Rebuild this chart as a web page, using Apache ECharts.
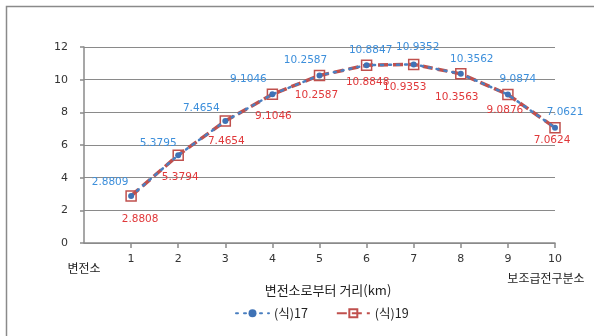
<!DOCTYPE html>
<html>
<head>
<meta charset="utf-8">
<script src="https://cdn.jsdelivr.net/npm/echarts@6/dist/echarts.min.js"></script>
<style>
html,body{margin:0;padding:0;background:#fff;}
#c{width:594px;height:336px;}
</style>
</head>
<body>
<div id="c"></div>
<script>
const xValues = [1, 2, 3, 4, 5, 6, 7, 8, 9, 10];
const series17 = [2.8809, 5.3795, 7.4654, 9.1046, 10.2587, 10.8847, 10.9352, 10.3562, 9.0874, 7.0621];
const series19 = [2.8808, 5.3794, 7.4654, 9.1046, 10.2587, 10.8848, 10.9353, 10.3563, 9.0876, 7.0624];
const seriesNames = ['(식)17', '(식)19'];
const xAxisTitle = '변전소로부터 거리(km)';
const startLabel = '변전소';
const endLabel = '보조급전구분소';

// label placement (style only)
const offsets17 = [[-21,-14],[-20,-12],[-24,-13],[-24,-15],[-14,-15],[4,-15],[4,-17],[11,-15],[10,-15],[10,-15]];
const offsets19 = [[9,23],[2,22],[1,20],[1,22],[-3,20],[1,17],[-9,23],[-4,23],[-3,16],[-3,13]];

const numFont = 'DejaVu Sans';
const krFont = '"Noto Sans CJK KR", "DejaVu Sans"';

function buildData(vals, offs) {
  return vals.map((v, i) => ({
    value: [xValues[i], v],
    label: { offset: offs[i] }
  }));
}

const chart = echarts.init(document.getElementById('c'), null, {renderer: 'canvas'});
chart.setOption({
  animation: false,
  backgroundColor: '#fff',
  graphic: [{
    type: 'rect', left: 4, top: 4,
    shape: { width: 700, height: 400 },
    style: { fill: 'none', stroke: '#8a8a8a', lineWidth: 1.5 },
    silent: true
  }],
  grid: { left: 84, right: 39, top: 47, bottom: 93 },
  legend: {
    top: 302, left: 230,
    itemWidth: 33, itemHeight: 10, itemGap: 28,
    textStyle: { fontFamily: krFont, fontSize: 12.5, color: '#222' },
    data: seriesNames
  },
  xAxis: [{
    type: 'value', min: 0, max: 10, interval: 1, position: 'bottom',
    name: xAxisTitle, nameLocation: 'middle', nameGap: 41,
    nameTextStyle: { fontFamily: krFont, fontSize: 13, color: '#222', padding: [0, 0, 0, 17] },
    axisLine: { lineStyle: { color: '#8a8a8a', width: 1.5 } },
    axisTick: { show: true, length: 5, lineStyle: { color: '#8a8a8a', width: 1.5 } },
    splitLine: { show: false },
    axisLabel: {
      margin: 11, fontFamily: numFont, fontSize: 11, color: '#333',
      showMinLabel: false, showMaxLabel: true
    }
  }, {
    type: 'value', min: 0, max: 10, interval: 10, position: 'bottom',
    axisLine: { show: false }, axisTick: { show: false }, splitLine: { show: false },
    axisLabel: {
      margin: 19, showMinLabel: true, showMaxLabel: true,
      fontFamily: krFont, fontSize: 12, color: '#222',
      formatter: function (v) {
        if (v === 0) return startLabel;
        if (v === 10) return '{e|' + endLabel + '}';
        return '';
      },
      rich: {
        e: { fontFamily: krFont, fontSize: 12, color: '#222', padding: [10, 18, 0, 0] }
      }
    }
  }],
  yAxis: {
    type: 'value', min: 0, max: 12, interval: 2,
    axisLine: { show: true, lineStyle: { color: '#8a8a8a', width: 1.5 } },
    axisTick: { show: true, length: 4, lineStyle: { color: '#8a8a8a', width: 1.5 } },
    splitLine: { lineStyle: { color: '#8a8a8a', width: 1.2 } },
    axisLabel: { margin: 16, fontFamily: numFont, fontSize: 11, color: '#333' }
  },
  series: [
    {
      name: seriesNames[0], type: 'line', z: 4, xAxisIndex: 0,
      data: buildData(series17, offsets17),
      symbol: 'circle', symbolSize: 6,
      itemStyle: { color: '#3f72b5' },
      lineStyle: { color: '#4a7fc0', width: 2.5, type: [2, 6], cap: 'round' },
      label: { show: true, position: 'inside', fontFamily: numFont, fontSize: 10.5, color: '#3d8fdb',
               formatter: p => String(p.value[1]) }
    },
    {
      name: seriesNames[1], type: 'line', z: 3, xAxisIndex: 0,
      data: buildData(series19, offsets19),
      symbol: 'rect', symbolSize: 10,
      itemStyle: { color: 'rgba(255,255,255,0)', borderColor: '#c0504d', borderWidth: 1.5 },
      lineStyle: { color: '#c0504d', width: 3.5, type: [10, 5] },
      label: { show: true, position: 'inside', fontFamily: numFont, fontSize: 10.5, color: '#e0383a',
               formatter: p => String(p.value[1]) }
    }
  ]
});
</script>
</body>
</html>
